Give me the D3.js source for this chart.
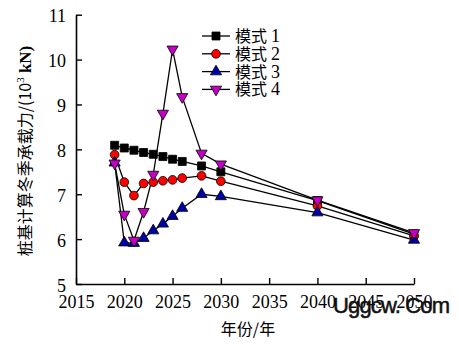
<!DOCTYPE html>
<html><head><meta charset="utf-8">
<script src="https://cdn.jsdelivr.net/npm/d3@7"></script>
<style>body{margin:0;background:#fff}svg{display:block}</style>
</head><body>
<script>
const years1 = [2019,2020,2021,2022,2023,2024,2025,2026,2028,2030,2040,2050];
const mode1 = [8.09,8.03,7.98,7.93,7.89,7.84,7.78,7.73,7.63,7.50,6.86,6.11];
const mode2 = [7.88,7.27,6.97,7.24,7.27,7.30,7.32,7.36,7.41,7.29,6.74,6.07];
const mode3 = [7.70,5.92,5.91,6.02,6.19,6.34,6.51,6.69,7.00,6.95,6.59,5.98];
const mode4 = [7.69,6.55,5.97,6.61,7.44,8.80,10.23,9.17,7.91,7.67,6.87,6.14];
const seriesNames = ["模式 1","模式 2","模式 3","模式 4"];
const xTicks = [2015,2020,2025,2030,2035,2040,2045,2050];
const yTicks = [5,6,7,8,9,10,11];

const SERIF='"Liberation Serif"';
const CJK='"Noto Sans CJK SC"';
const W=459,H=345;
const svg=d3.select("body").append("svg").attr("width",W).attr("height",H);
const x=d3.scaleLinear().domain([2015,2050]).range([76,414]);
const y=d3.scaleLinear().domain([5,11]).range([284,14.7]);

// axes
const xa=svg.append("g").attr("transform","translate(0,284)")
  .call(d3.axisBottom(x).tickValues(xTicks).tickFormat(d3.format("d")).tickSizeInner(-6).tickSizeOuter(0).tickPadding(11));
const ya=svg.append("g").attr("transform","translate(76,0)")
  .call(d3.axisLeft(y).tickValues(yTicks).tickFormat(d3.format("d")).tickSizeInner(-6).tickSizeOuter(0).tickPadding(10));
[xa,ya].forEach(a=>{
  a.attr("font-family","Liberation Serif").attr("font-size",18);
  a.select(".domain").attr("stroke","#000").attr("stroke-width",1.6);
  a.selectAll(".tick line").attr("stroke","#000").attr("stroke-width",1.4);
  a.selectAll("text").attr("font-family","Liberation Serif").style("font-family",SERIF).style("font-size","18px").attr("fill","#000");
});
ya.selectAll("text").attr("dy","0.4em");

const series=[
 {vals:mode1,shape:d3.symbolSquare,size:64,fill:"#000000"},
 {vals:mode2,shape:d3.symbolCircle,size:60,fill:"#ff0000"},
 {vals:mode3,shape:d3.symbolTriangle,size:54,fill:"#0000a8",rot:0},
 {vals:mode4,shape:d3.symbolTriangle,size:54,fill:"#c400c4",rot:180},
];
const line=d3.line().x((d,i)=>x(years1[i])).y(d=>y(d));
series.forEach(s=>{
  svg.append("path").attr("d",line(s.vals)).attr("fill","none").attr("stroke","#000").attr("stroke-width",1.3);
});
series.forEach(s=>{
  svg.append("g").selectAll("path").data(s.vals).join("path")
    .attr("d",d3.symbol().type(s.shape).size(s.size))
    .attr("transform",(d,i)=>`translate(${x(years1[i])},${y(d)}) rotate(${s.rot||0})`)
    .attr("fill",s.fill).attr("stroke","#000").attr("stroke-width",0.8);
});

// legend
const lg=svg.append("g");
series.forEach((s,i)=>{
  const yy=36+i*17.8;
  lg.append("line").attr("x1",202).attr("x2",230).attr("y1",yy).attr("y2",yy).attr("stroke","#000").attr("stroke-width",1.3);
  lg.append("path").attr("d",d3.symbol().type(s.shape).size(s.size))
    .attr("transform",`translate(216,${yy}) rotate(${s.rot||0})`)
    .attr("fill",s.fill).attr("stroke","#000").attr("stroke-width",0.8);
  const t=lg.append("text").attr("x",235).attr("y",yy+6).attr("fill","#000");
  t.append("tspan").style("font-family",CJK).style("font-size","16px").text(seriesNames[i].split(" ")[0]);
  t.append("tspan").attr("font-family","Liberation Serif").style("font-family",SERIF).style("font-size","18px").attr("dx",4).text(seriesNames[i].split(" ")[1]);
});

// axis titles
const yt=svg.append("text").attr("transform","translate(31,151) rotate(-90)").attr("text-anchor","middle")
  .attr("fill","#000");
yt.append("tspan").style("font-family",CJK).style("font-size","16px").text("桩基计算冬季承载力/(10");
yt.append("tspan").style("font-family",SERIF).style("font-size","11px").attr("dy",-7).text("3");
yt.append("tspan").style("font-family",SERIF).style("font-size","17px").style("font-weight","bold").attr("dy",7).text(" kN)");
svg.append("text").attr("x",248).attr("y",335).attr("text-anchor","middle").style("font-family",CJK)
  .style("font-size","16px").attr("fill","#000").text("年份/年");

// watermark
svg.append("text").attr("x",333).attr("y",313).style("font-family",'"Liberation Sans"')
  .style("font-size","22px").attr("fill","#111").attr("stroke","#111").attr("stroke-width",0.5)
  .attr("textLength",117).text("Uggcw. Com");
</script>
</body></html>
